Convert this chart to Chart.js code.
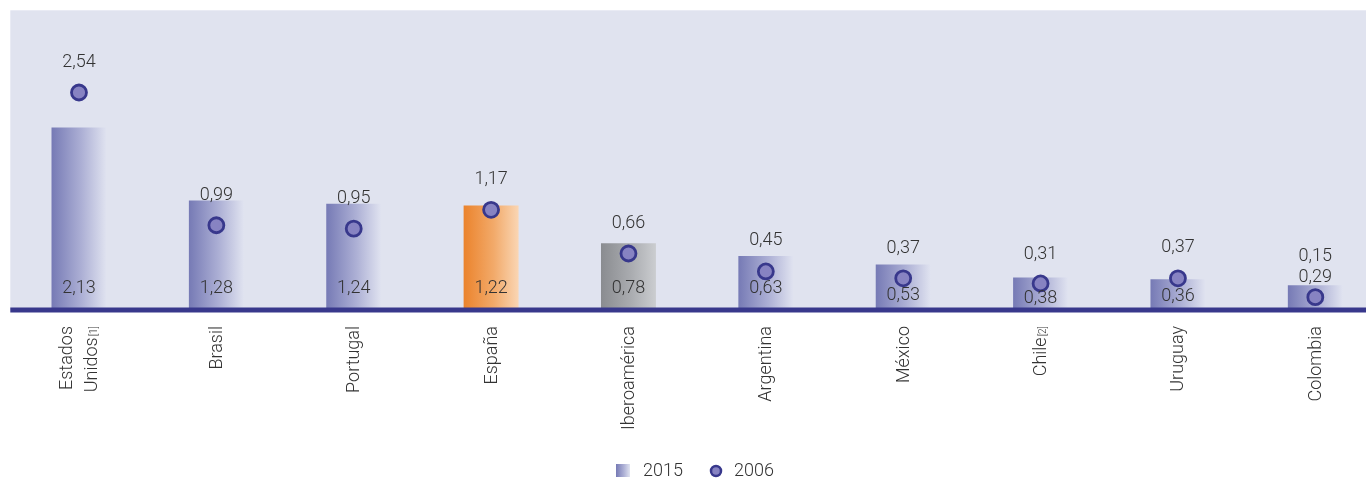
<!DOCTYPE html>
<html>
<head>
<meta charset="utf-8">
<script src="https://cdn.jsdelivr.net/npm/chart.js@4"></script>
<style>
  html, body { margin: 0; padding: 0; background: #fff; overflow: hidden; }
  #wrap { width: 1366px; height: 478px; overflow: hidden; }
</style>
</head>
<body>
<div id="wrap"><canvas id="chart" width="1400" height="478"></canvas></div>
<script>
// data
const countries = ['Estados Unidos', 'Brasil', 'Portugal', 'España', 'Iberoamérica', 'Argentina', 'México', 'Chile', 'Uruguay', 'Colombia'];
const axisLines = [['Estados', 'Unidos'], ['Brasil'], ['Portugal'], ['España'], ['Iberoamérica'], ['Argentina'], ['México'], ['Chile'], ['Uruguay'], ['Colombia']];
const footnotes = ['[1]', '', '', '', '', '', '', '[2]', '', ''];
const values2015 = [2.13, 1.28, 1.24, 1.22, 0.78, 0.63, 0.53, 0.38, 0.36, 0.29];
const values2006 = [2.54, 0.99, 0.95, 1.17, 0.66, 0.45, 0.37, 0.31, 0.37, 0.15];
const seriesNames = ['2015', '2006'];

// styling
const FONT = '300 18px Roboto, "Noto Sans", sans-serif';
const TEXT = '#333';
const PLOT_BG = '#e0e3ef';
const AXIS_BLUE = '#38388c';
const barStops = {
    blue: ['#767ab5', '#adb0d5', '#e0e3f0'],
    orange: ['#eb832c', '#f2aa6a', '#fad6b4'],
    grey: ['#8a8c90', '#aaacb0', '#cbcdd0']
};
const barTheme = ['blue', 'blue', 'blue', 'orange', 'grey', 'blue', 'blue', 'blue', 'blue', 'blue'];
// little nudges so labels don't collide (px above baseline / above point)
const barLabelLift = [22, 22, 22, 22, 22, 22, 15, 12, 14, 33];
const pointLabelLift = [30, 30, 30, 30, 30, 31, 30, 29, 31, 41];

const fmt = v => v.toFixed(2).replace('.', ',');

function makeBarGradient(ctx, x, half, theme) {
    const s = barStops[theme];
    const g = ctx.createLinearGradient(x - half, 0, x + half, 0);
    g.addColorStop(0, s[0]);
    g.addColorStop(0.55, s[1]);
    g.addColorStop(1, s[2]);
    return g;
}

function barFill(context) {
    const chart = context.chart;
    if (!chart.chartArea || context.dataIndex === undefined) return barStops.blue[0];
    const x = chart.scales.x.getPixelForValue(context.dataIndex);
    const half = chart.scales.x.width / countries.length * 0.2;
    return makeBarGradient(chart.ctx, x, half, barTheme[context.dataIndex]);
}

const decor = {
    id: 'decor',
    beforeDraw(chart) {
        const { ctx, chartArea: a } = chart;
        ctx.save();
        ctx.fillStyle = PLOT_BG;
        ctx.fillRect(a.left, a.top, a.right - a.left, a.bottom - a.top);
        ctx.restore();
    },
    afterDatasetsDraw(chart) {
        const { ctx, chartArea: a } = chart;
        const bars = chart.getDatasetMeta(0).data;
        const pts = chart.getDatasetMeta(1).data;

        ctx.save();
        ctx.strokeStyle = AXIS_BLUE;
        ctx.lineWidth = 5;
        ctx.beginPath();
        ctx.moveTo(a.left, a.bottom);
        ctx.lineTo(chart.width, a.bottom);
        ctx.stroke();

        ctx.font = FONT;
        ctx.fillStyle = TEXT;
        ctx.textAlign = 'center';
        ctx.textBaseline = 'middle';
        bars.forEach((b, i) => {
            ctx.fillText(fmt(values2015[i]), b.x, a.bottom - barLabelLift[i]);
        });
        pts.forEach((p, i) => {
            ctx.fillText(fmt(values2006[i]), p.x, p.y - pointLabelLift[i]);
        });
        ctx.restore();
    },
    afterDraw(chart) {
        const { ctx, chartArea: a } = chart;
        const xs = chart.scales.x;

        // rotated category names
        ctx.save();
        ctx.fillStyle = TEXT;
        ctx.textBaseline = 'middle';
        axisLines.forEach((lines, i) => {
            const cx = xs.getPixelForValue(i) + 1;
            lines.forEach((line, j) => {
                const dx = (j - (lines.length - 1) / 2) * 25;
                const note = j === lines.length - 1 ? footnotes[i] : '';
                ctx.save();
                ctx.translate(cx + dx, a.bottom + 16);
                ctx.rotate(-Math.PI / 2);
                ctx.font = '300 10px Roboto, sans-serif';
                const w2 = note ? ctx.measureText(note).width + 1 : 0;
                ctx.font = FONT;
                const w1 = ctx.measureText(line).width;
                ctx.textAlign = 'left';
                ctx.fillText(line, -(w1 + w2), 0);
                if (note) {
                    ctx.font = '300 10px Roboto, sans-serif';
                    ctx.fillText(note, -w2 + 1, 2);
                }
                ctx.restore();
            });
        });

        // legend
        const ly = 471;
        ctx.fillStyle = makeBarGradient(ctx, 623, 7, 'blue');
        ctx.fillRect(616, ly - 7, 14, 13);
        ctx.fillStyle = TEXT;
        ctx.font = FONT;
        ctx.textAlign = 'left';
        ctx.fillText(seriesNames[0], 643, ly);
        ctx.beginPath();
        ctx.arc(716, ly, 5, 0, Math.PI * 2);
        ctx.fillStyle = '#8783c2';
        ctx.fill();
        ctx.lineWidth = 2.5;
        ctx.strokeStyle = AXIS_BLUE;
        ctx.stroke();
        ctx.fillStyle = TEXT;
        ctx.fillText(seriesNames[1], 734, ly);
        ctx.restore();
    }
};

new Chart(document.getElementById('chart'), {
    type: 'bar',
    data: {
        labels: countries,
        datasets: [
            {
                label: seriesNames[0],
                data: values2015,
                backgroundColor: barFill,
                borderWidth: 0,
                barPercentage: 0.4,
                categoryPercentage: 1,
                order: 2
            },
            {
                type: 'line',
                label: seriesNames[1],
                data: values2006,
                showLine: false,
                pointRadius: 7.5,
                pointBorderWidth: 2.8,
                pointBackgroundColor: '#8783c2',
                pointBorderColor: AXIS_BLUE,
                order: 1
            }
        ]
    },
    options: {
        responsive: false,
        animation: false,
        layout: { padding: { top: 9, bottom: 168, left: 10, right: 16 } },
        plugins: { legend: { display: false }, tooltip: { enabled: false } },
        scales: {
            x: { display: false },
            y: { display: false, min: 0, max: 3.5 }
        }
    },
    plugins: [decor]
});
</script>
</body>
</html>
